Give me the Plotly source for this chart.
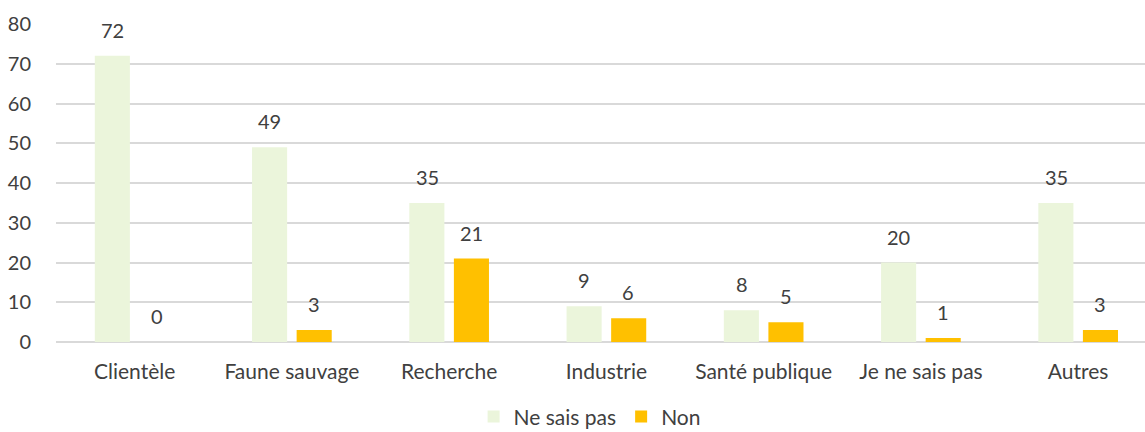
import plotly.graph_objects as go

categories = ["Clientèle", "Faune sauvage", "Recherche", "Industrie",
              "Santé publique", "Je ne sais pas", "Autres"]
ne_sais_pas = [72, 49, 35, 9, 8, 20, 35]
non = [0, 3, 21, 6, 5, 1, 3]
y_ticks = [0, 10, 20, 30, 40, 50, 60, 70, 80]

FONT = "Lato, 'Open Sans', sans-serif"
TEXT = "#404040"
GREEN = "#EBF5DB"
GOLD = "#FFC000"

fig = go.Figure()
fig.add_trace(go.Bar(name="Ne sais pas", x=categories, y=ne_sais_pas,
                     marker=dict(color=GREEN, line=dict(width=0))))
fig.add_trace(go.Bar(name="Non", x=categories, y=non,
                     marker=dict(color=GOLD, line=dict(width=0))))

# value labels above each bar
annotations = []
for series, shift in ((ne_sais_pas, -22), (non, 22)):
    for cat, val in zip(categories, series):
        annotations.append(dict(
            x=cat, y=val, xref="x", yref="y", text=str(val),
            showarrow=False, xshift=shift, yshift=26,
            font=dict(family=FONT, size=20, color=TEXT)))

fig.update_layout(
    width=1145, height=432,
    margin=dict(l=56, r=0, t=24, b=90, autoexpand=False),
    paper_bgcolor="white", plot_bgcolor="white",
    barmode="group", bargap=0.433, bargroupgap=0.213,
    font=dict(family=FONT, size=20, color=TEXT),
    annotations=annotations,
    showlegend=True,
    legend=dict(orientation="h", x=0.49, y=0.035, yref="container",
                xanchor="center", yanchor="middle",
                font=dict(family=FONT, size=21, color=TEXT),
                itemwidth=30, traceorder="normal"),
    xaxis=dict(range=[-0.5, 6.425], showgrid=False, showline=False,
               automargin=False, ticks="outside", ticklen=11,
               tickcolor="rgba(0,0,0,0)",
               tickfont=dict(family=FONT, size=21, color=TEXT)),
    yaxis=dict(range=[0, 80], tickvals=y_ticks, showgrid=True,
               automargin=False,
               gridcolor="#D9D9D9", gridwidth=1.5, zeroline=True,
               zerolinecolor="#D9D9D9", zerolinewidth=1.5,
               ticks="outside", ticklen=20, tickcolor="rgba(0,0,0,0)",
               tickfont=dict(family=FONT, size=20, color=TEXT)),
)

fig.write_html("out.html")
